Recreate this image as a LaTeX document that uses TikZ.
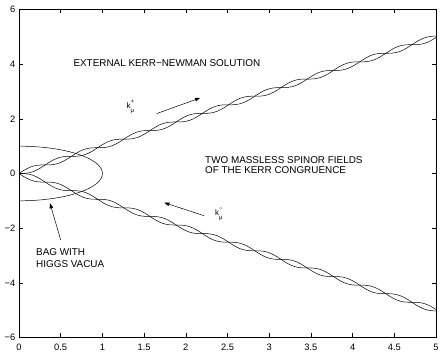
\documentclass[tikz,border=0pt]{standalone}
\usepackage{fontspec}
\setmainfont{Liberation Sans}
\usetikzlibrary{arrows.meta}
\begin{document}
\begin{tikzpicture}[x=1pt,y=1pt,
  frame/.style={line width=0.5pt,black},
  curve/.style={line width=0.5pt,black},
  pointer/.style={line width=0.5pt,black,-{Triangle[length=5pt,width=3.6pt]}},
  lbl/.style={font=\fontsize{9.9}{11}\selectfont,inner sep=0pt,align=left},
  ticklbl/.style={font=\fontsize{9.3}{10}\selectfont,inner sep=0pt},
  klbl/.style={font=\fontsize{8}{8}\selectfont,inner sep=0pt}]
\useasboundingbox (0,0) rectangle (443,355);
% axes box
\draw[frame] (19,17.5) rectangle (436,345.5);
% x ticks
\foreach \v/\t in {0/0,0.5/0.5,1/1,1.5/1.5,2/2,2.5/2.5,3/3,3.5/3.5,4/4,4.5/4.5,5/5}{
  \draw[frame] ({19+83.4*\v},17.5) -- ++(0,4);
  \draw[frame] ({19+83.4*\v},345.5) -- ++(0,-4);
  \node[ticklbl,anchor=base] (xt\t) at ({19+83.4*\v},5) {\t};
}
% y ticks
\foreach \v/\t/\n in {-6/−6/m6,-4/−4/m4,-2/−2/m2,0/0/z0,2/2/p2,4/4/p4,6/6/p6}{
  \draw[frame] (19,{181.5+27.333*\v}) -- ++(4,0);
  \draw[frame] (436,{181.5+27.333*\v}) -- ++(-4,0);
  \node[ticklbl,anchor=east] (yt\n) at (15.5,{181.5+27.333*\v}) {\t};
}
% data curves
\begin{scope}[shift={(19,181.5)},x=83.4pt,y=27.333pt]
  \draw[curve] plot[domain=0:5,samples=400,smooth,variable=\s] (\s,{\s+0.1*sin(deg(10*\s))});
  \draw[curve] plot[domain=0:5,samples=400,smooth,variable=\s] (\s,{\s-0.1*sin(deg(10*\s))});
  \draw[curve] plot[domain=0:5,samples=400,smooth,variable=\s] (\s,{-\s+0.1*sin(deg(10*\s))});
  \draw[curve] plot[domain=0:5,samples=400,smooth,variable=\s] (\s,{-\s-0.1*sin(deg(10*\s))});
  \draw[curve] plot[domain=90:-90,samples=100,smooth,variable=\s] ({cos(\s)},{sin(\s)});
\end{scope}
% labels
\node[lbl,anchor=base west] (ext) at (73.3,288.3) {EXTERNAL KERR−NEWMAN SOLUTION};
\node[lbl,anchor=base west] (two) at (205,191) {TWO MASSLESS SPINOR FIELDS};
\node[lbl,anchor=base west] (cong) at (205,181) {OF THE KERR CONGRUENCE};
\node[lbl,anchor=base west] (bag) at (36,99) {BAG WITH};
\node[lbl,anchor=base west] (higgs) at (36,87.3) {HIGGS VACUA};
\node[klbl,anchor=base west] (kplus) at (126.5,246.7)
  {k\rlap{\raisebox{4.6pt}{\fontsize{6}{6}\selectfont +}}\raisebox{-4.3pt}{\fontsize{6}{6}\selectfont μ}};
\node[klbl,anchor=base west] (kminus) at (215,139.3)
  {k\rlap{\raisebox{5.5pt}{\fontsize{6}{6}\selectfont −}}\raisebox{-4.3pt}{\fontsize{6}{6}\selectfont μ}};
% arrows
\coordinate (a1s) at (156.7,241.4);
\coordinate (a1t) at (200,257);
\coordinate (a2s) at (204,139.3);
\coordinate (a2t) at (164.3,152.3);
\coordinate (a3s) at (60.7,115);
\coordinate (a3t) at (50,151.7);
\draw[pointer] (a1s) -- (a1t);
\draw[pointer] (a2s) -- (a2t);
\draw[pointer] (a3s) -- (a3t);
\end{tikzpicture}
\end{document}
